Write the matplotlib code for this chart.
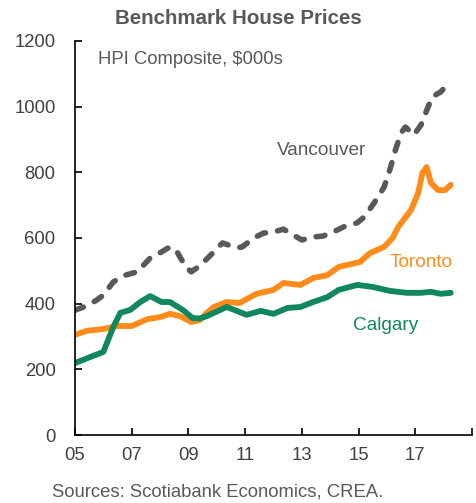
import matplotlib
matplotlib.use('Agg')
import matplotlib.pyplot as plt
import numpy as np

plt.rcParams['font.family'] = ['Liberation Sans', 'DejaVu Sans']

# values, x in fractional years
van_year = [2005.0, 2005.4, 2005.75, 2006.0, 2006.35, 2006.7, 2007.2, 2007.65, 2008.0,
            2008.35, 2008.6, 2008.9, 2009.1, 2009.4, 2009.75, 2010.2, 2010.7, 2010.9,
            2011.3, 2011.65, 2012.0, 2012.35, 2012.7, 2013.0, 2013.4, 2013.75, 2014.1,
            2014.55, 2014.95, 2015.2, 2015.55, 2015.9, 2016.1, 2016.3, 2016.5, 2016.65,
            2016.95, 2017.2, 2017.45, 2017.6, 2017.9, 2018.2]
van_price = [380, 393, 410, 426, 466, 485, 497, 539, 555,
             573, 558, 512, 497, 515, 545, 585, 570, 573,
             600, 615, 618, 627, 609, 594, 603, 606, 618,
             637, 646, 664, 707, 755, 807, 868, 920, 938,
             914, 944, 999, 1030, 1045, 1075]

tor_year = [2005.0, 2005.4, 2006.0, 2006.5, 2007.0, 2007.55, 2008.0, 2008.35, 2008.7,
            2009.1, 2009.4, 2009.65, 2009.9, 2010.35, 2010.8, 2011.4, 2012.0, 2012.35,
            2012.95, 2013.4, 2013.9, 2014.3, 2014.6, 2015.05, 2015.4, 2015.9, 2016.2,
            2016.4, 2016.85, 2017.1, 2017.25, 2017.4, 2017.55, 2017.8, 2018.05, 2018.25]
tor_price = [305, 317, 323, 332, 332, 353, 359, 369, 362,
             344, 350, 372, 390, 405, 402, 430, 442, 463,
             457, 478, 487, 512, 518, 527, 554, 573, 600,
             634, 685, 737, 798, 816, 768, 746, 746, 762]

cal_year = [2005.0, 2005.55, 2006.0, 2006.35, 2006.6, 2006.95, 2007.3, 2007.65, 2008.05,
            2008.35, 2008.8, 2009.15, 2009.4, 2009.65, 2010.35, 2011.05, 2011.55, 2012.0,
            2012.5, 2012.95, 2013.4, 2013.9, 2014.3, 2014.95, 2015.5, 2016.1, 2016.7,
            2017.2, 2017.55, 2017.9, 2018.25]
cal_price = [219, 238, 253, 329, 372, 381, 405, 423, 405,
             405, 381, 356, 355, 362, 390, 366, 378, 369,
             387, 390, 405, 420, 442, 457, 451, 439, 433,
             433, 436, 430, 433]

x_ticks = [2005, 2007, 2009, 2011, 2013, 2015, 2017, 2019]
x_labels = ['05', '07', '09', '11', '13', '15', '17', '']
y_ticks = [0, 200, 400, 600, 800, 1000, 1200]

gray = '#595959'
orange = '#ff8c1a'
green = '#10875d'

fig = plt.figure(figsize=(4.77, 5.03), dpi=100)
ax = fig.add_axes([75 / 477, 68 / 503, 397 / 477, 394 / 503])

ax.plot(van_year, van_price, color=gray, linewidth=4, dashes=(1.6, 2.2),
        dash_capstyle='round')
ax.plot(tor_year, tor_price, color=orange, linewidth=4.2, solid_capstyle='round')
ax.plot(cal_year, cal_price, color=green, linewidth=4.2, solid_capstyle='round')

ax.set_xlim(2005, 2019)
ax.set_ylim(0, 1200)
ax.set_xticks(x_ticks)
ax.set_xticklabels(x_labels)
ax.set_yticks(y_ticks)
ax.tick_params(axis='y', direction='in', length=5, width=1.2, pad=14,
               labelsize=13.3, labelcolor='#404040')
ax.tick_params(axis='x', direction='in', length=5, width=1.2, pad=9,
               labelsize=13.3, labelcolor='#404040')
for side in ['top', 'right']:
    ax.spines[side].set_visible(False)
for side in ['left', 'bottom']:
    ax.spines[side].set_linewidth(1.2)
    ax.spines[side].set_color('black')

fig.text(0.5, 1 - 18 / 503, 'Benchmark House Prices', ha='center', va='center',
         fontsize=14.8, fontweight='bold', color=gray)
ax.text(2005.8, 1145, 'HPI Composite, $000s', ha='left', va='center',
        fontsize=13.3, color=gray)
ax.text(2013.7, 868, 'Vancouver', ha='center', va='center', fontsize=13.7, color=gray)
ax.text(2017.2, 524, 'Toronto', ha='center', va='center', fontsize=13.7, color=orange)
ax.text(2015.94, 332, 'Calgary', ha='center', va='center', fontsize=13.7, color=green)
fig.text(52 / 477, 1 - 492 / 503, 'Sources: Scotiabank Economics, CREA.', ha='left',
         va='center', fontsize=13.3, color=gray)

plt.savefig('out.png', dpi=100)
